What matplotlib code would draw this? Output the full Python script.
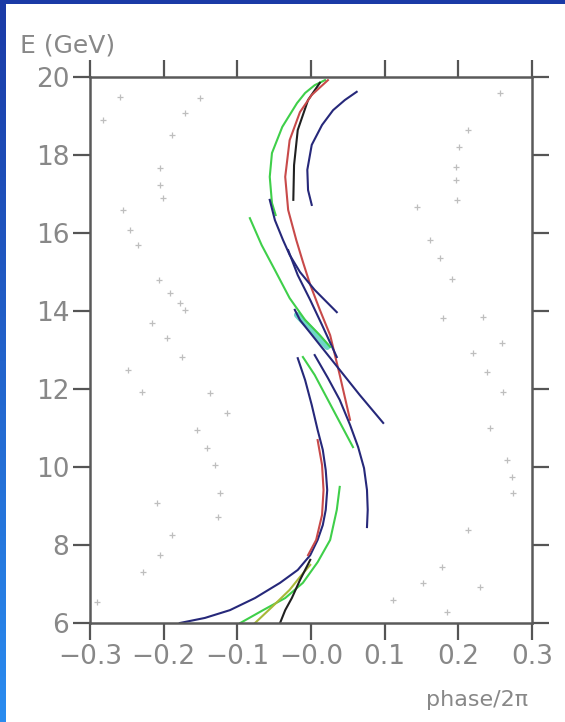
import matplotlib
matplotlib.use("Agg")
import matplotlib.pyplot as plt
import numpy as np
from matplotlib.patches import Rectangle

plt.rcParams['font.family'] = ['DejaVu Sans']

# phase/2pi (x) vs beam energy E in GeV (y), one list pair per traced branch
green_top_x = [0.019, 0.005, -0.008, -0.019, -0.039, -0.053, -0.056, -0.053, -0.048]
green_top_y = [19.92, 19.79, 19.59, 19.33, 18.72, 18.05, 17.44, 16.77, 16.46]

red_x = [0.023, 0.001, -0.015, -0.029, -0.035, -0.031, -0.020, -0.011, -0.001, 0.012, 0.026, 0.039, 0.053]
red_y = [19.92, 19.54, 19.10, 18.38, 17.44, 16.59, 15.82, 15.26, 14.67, 14.03, 13.38, 12.36, 11.21]

black_top_x = [0.012, -0.004, -0.018, -0.023, -0.024]
black_top_y = [19.85, 19.41, 18.64, 17.74, 16.85]

navy_top_x = [0.062, 0.046, 0.030, 0.015, 0.001, -0.005, -0.004, 0.001]
navy_top_y = [19.62, 19.41, 19.15, 18.77, 18.26, 17.62, 17.10, 16.72]

navy_a_x = [-0.056, -0.049, -0.038, -0.029, -0.015, 0.005, 0.035]
navy_a_y = [16.85, 16.33, 15.82, 15.44, 15.00, 14.54, 13.97]

navy_b_x = [-0.031, -0.018, -0.001, 0.015, 0.035]
navy_b_y = [15.56, 14.92, 14.28, 13.64, 12.82]

green_mid_x = [-0.083, -0.067, -0.049, -0.029, -0.008, 0.012, 0.026]
green_mid_y = [16.38, 15.69, 15.05, 14.33, 13.77, 13.38, 13.08]

cyan_x = [-0.019, 0.001, 0.022]
cyan_y = [13.90, 13.51, 13.08]

navy_long_x = [-0.022, -0.015, 0.012, 0.039, 0.066, 0.098]
navy_long_y = [14.03, 13.77, 13.13, 12.49, 11.85, 11.13]

navy_low_x = [-0.018, -0.008, 0.001, 0.009, 0.016, 0.020, 0.022, 0.020, 0.016, 0.009,
              -0.001, -0.018, -0.042, -0.076, -0.110, -0.144, -0.178]
navy_low_y = [12.79, 12.23, 11.59, 10.95, 10.44, 9.92, 9.41, 8.90, 8.51, 8.13,
              7.74, 7.36, 7.03, 6.64, 6.33, 6.13, 6.00]

red_low_x = [0.009, 0.015, 0.017, 0.015, 0.007, -0.004]
red_low_y = [10.69, 10.05, 9.41, 8.77, 8.13, 7.74]

green_line_x = [-0.011, 0.005, 0.023, 0.039, 0.057]
green_line_y = [12.82, 12.36, 11.72, 11.15, 10.51]

navy_right_x = [0.005, 0.023, 0.039, 0.053, 0.064, 0.072, 0.076, 0.077, 0.076]
navy_right_y = [12.87, 12.28, 11.72, 11.08, 10.51, 9.97, 9.41, 8.90, 8.46]

green_low_x = [0.039, 0.035, 0.026, 0.009, -0.011, -0.035, -0.065, -0.096]
green_low_y = [9.49, 8.90, 8.13, 7.56, 7.03, 6.64, 6.33, 6.00]

olive_x = [-0.001, -0.015, -0.029, -0.053, -0.076]
olive_y = [7.49, 7.18, 6.85, 6.41, 6.00]

black_low_x = [-0.001, -0.015, -0.026, -0.035, -0.042]
black_low_y = [7.62, 7.10, 6.64, 6.33, 6.00]

# faint measured points in the side bands
side_x = [-0.259, -0.282, -0.151, -0.171, -0.189, -0.205, -0.205, -0.201, -0.255, -0.246,
          -0.235, -0.206, -0.191, -0.178, -0.171, -0.216, -0.195, -0.175, -0.248, -0.229,
          -0.137, -0.114, -0.155, -0.141, -0.130, -0.124, -0.126, -0.209, -0.189, -0.205,
          -0.228, -0.290,
          0.257, 0.213, 0.201, 0.197, 0.197, 0.198, 0.144, 0.162, 0.175, 0.191,
          0.179, 0.233, 0.259, 0.220, 0.239, 0.261, 0.243, 0.266, 0.273, 0.274,
          0.213, 0.178, 0.152, 0.111, 0.229, 0.185]
side_y = [19.49, 18.90, 19.46, 19.08, 18.51, 17.67, 17.23, 16.90, 16.59, 16.08,
          15.69, 14.79, 14.46, 14.21, 14.03, 13.69, 13.31, 12.82, 12.49, 11.92,
          11.90, 11.38, 10.95, 10.49, 10.05, 9.33, 8.72, 9.08, 8.26, 7.74,
          7.31, 6.54,
          19.59, 18.64, 18.21, 17.69, 17.36, 16.85, 16.67, 15.82, 15.36, 14.82,
          13.82, 13.85, 13.18, 12.92, 12.44, 11.92, 11.00, 10.18, 9.74, 9.33,
          8.38, 7.44, 7.03, 6.59, 6.92, 6.28]

x_ticks = [-0.3, -0.2, -0.1, 0.0, 0.1, 0.2, 0.3]
x_tick_labels = ['\u22120.3', '\u22120.2', '\u22120.1', '\u22120.0', '0.1', '0.2', '0.3']
y_ticks = [6, 8, 10, 12, 14, 16, 18, 20]

GREEN = '#3fcf4a'
RED = '#c84a4a'
BLACK = '#202020'
NAVY = '#26287a'
CYAN = '#6fd8c8'
OLIVE = '#a8b838'
GRAY = '#888888'

fig = plt.figure(figsize=(5.65, 7.22), dpi=100)
fig.patch.set_facecolor('white')

# slide frame: dark band on top, blue gradient strip on the left
fig.patches.append(Rectangle((0, 1 - 4 / 722), 1, 4 / 722, transform=fig.transFigure,
                             facecolor='#1a3aa6', edgecolor='none', zorder=0))
strip = fig.add_axes([0, 0, 6 / 565, 1])
grad = np.linspace(0, 1, 256).reshape(-1, 1)
strip.imshow(grad, aspect='auto', cmap=matplotlib.colors.LinearSegmentedColormap.from_list(
    'frame', ['#1a3aa6', '#2a8cf0']), extent=[0, 1, 0, 1])
strip.axis('off')

ax = fig.add_axes([90 / 565, 1 - 623 / 722, 442 / 565, 546 / 722])

ax.plot(side_x, side_y, linestyle='none', marker='+', markersize=4, mew=0.9,
        color='#a8a8a8', alpha=0.75)

lw = 1.5
ax.plot(cyan_x, cyan_y, color=CYAN, lw=4.5, solid_capstyle='round')
ax.plot(green_top_x, green_top_y, color=GREEN, lw=lw)
ax.plot(black_top_x, black_top_y, color=BLACK, lw=lw)
ax.plot(red_x, red_y, color=RED, lw=lw)
ax.plot(navy_top_x, navy_top_y, color=NAVY, lw=lw)
ax.plot(navy_a_x, navy_a_y, color=NAVY, lw=lw)
ax.plot(navy_b_x, navy_b_y, color=NAVY, lw=lw)
ax.plot(green_mid_x, green_mid_y, color=GREEN, lw=lw)
ax.plot(navy_long_x, navy_long_y, color=NAVY, lw=lw)
ax.plot(navy_low_x, navy_low_y, color=NAVY, lw=lw)
ax.plot(red_low_x, red_low_y, color=RED, lw=lw)
ax.plot(green_line_x, green_line_y, color=GREEN, lw=lw)
ax.plot(navy_right_x, navy_right_y, color=NAVY, lw=lw)
ax.plot(green_low_x, green_low_y, color=GREEN, lw=lw)
ax.plot(olive_x, olive_y, color=OLIVE, lw=lw)
ax.plot(black_low_x, black_low_y, color=BLACK, lw=lw)

ax.set_xlim(-0.3, 0.3)
ax.set_ylim(6, 20)
ax.set_xticks(x_ticks)
ax.set_xticklabels(x_tick_labels)
ax.set_yticks(y_ticks)
ax.tick_params(direction='out', length=12, width=1.6, color='#555555',
               top=True, right=True, labelsize=19, labelcolor=GRAY, pad=3)
for side in ax.spines.values():
    side.set_color('#5a5a5a')
    side.set_linewidth(1.8)

fig.text(20 / 565, 1 - 46 / 722, 'E (GeV)', fontsize=18, color=GRAY, va='center', ha='left')
fig.text(528 / 565, 1 - 700 / 722, 'phase/2\u03c0', fontsize=16, color=GRAY, va='center', ha='right')

fig.savefig('out.png', dpi=100)
